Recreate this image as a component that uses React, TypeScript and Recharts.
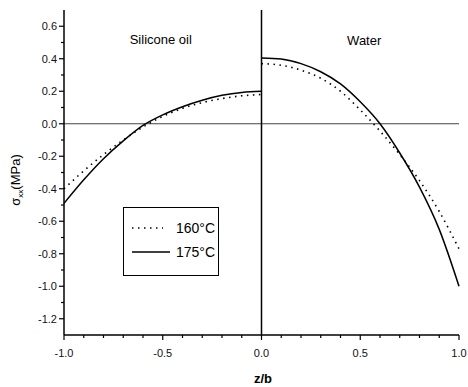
import React from 'react';
import { LineChart, Line, XAxis, YAxis, ReferenceLine, ReferenceDot, Legend } from 'recharts';

// z/b positions of the two halves
const zOil = [-1.0, -0.9, -0.8, -0.7, -0.6, -0.5, -0.4, -0.3, -0.2, -0.1, 0.0];
const zWater = [0.0, 0.1, 0.2, 0.3, 0.4, 0.5, 0.6, 0.7, 0.8, 0.9, 1.0];

// sigma_xx (MPa)
const oil160 = [-0.4, -0.29, -0.19, -0.1, -0.02, 0.045, 0.095, 0.13, 0.155, 0.172, 0.18];
const oil175 = [-0.49, -0.345, -0.215, -0.105, -0.01, 0.055, 0.105, 0.145, 0.175, 0.193, 0.2];
const water160 = [0.37, 0.36, 0.33, 0.28, 0.2, 0.085, -0.045, -0.19, -0.35, -0.54, -0.77];
const water175 = [0.405, 0.398, 0.37, 0.32, 0.245, 0.135, 0.0, -0.18, -0.39, -0.65, -1.0];

const xTicks = [-1.0, -0.9, -0.8, -0.7, -0.6, -0.5, -0.4, -0.3, -0.2, -0.1, 0.0, 0.1, 0.2, 0.3, 0.4, 0.5, 0.6, 0.7, 0.8, 0.9, 1.0];
const xMajor = [-1.0, -0.5, 0.0, 0.5, 1.0];
const yTicks = [-1.2, -1.1, -1.0, -0.9, -0.8, -0.7, -0.6, -0.5, -0.4, -0.3, -0.2, -0.1, 0.0, 0.1, 0.2, 0.3, 0.4, 0.5, 0.6];
const yMajor = [-1.2, -1.0, -0.8, -0.6, -0.4, -0.2, 0.0, 0.2, 0.4, 0.6];

const FONT = '"Liberation Sans", Arial, sans-serif';

const toData = (zs: number[], vals: number[]) => zs.map((z, i) => ({ z, s: vals[i] }));
const isIn = (list: number[], v: number) => list.some(m => Math.abs(m - v) < 1e-6);

const BottomTick = (props: any) => {
    const { x, y, payload } = props;
    const major = isIn(xMajor, payload.value);
    return (
        <g>
            <line x1={x} x2={x} y1={y} y2={y + (major ? 5 : 3)} stroke="#000" strokeWidth={1.2} />
            {major && (
                <text x={x} y={y + 22} textAnchor="middle" fontSize={11} fontFamily={FONT} fill="#111">
                    {payload.value.toFixed(1)}
                </text>
            )}
        </g>
    );
};

const TopTick = (props: any) => {
    const { x, y, payload } = props;
    const major = isIn(xMajor, payload.value);
    return <line x1={x} x2={x} y1={y} y2={y + (major ? 5 : 3)} stroke="#000" strokeWidth={1.2} />;
};

const LeftTick = (props: any) => {
    const { x, y, payload } = props;
    const major = isIn(yMajor, payload.value);
    return (
        <g>
            <line x1={x} x2={x - (major ? 5 : 3)} y1={y} y2={y} stroke="#000" strokeWidth={1.2} />
            {major && (
                <text x={x - 7} y={y + 4} textAnchor="end" fontSize={11} fontFamily={FONT} fill="#111">
                    {payload.value.toFixed(1)}
                </text>
            )}
        </g>
    );
};

const RightTick = (props: any) => {
    const { x, y, payload } = props;
    const major = isIn(yMajor, payload.value);
    return <line x1={x} x2={x - (major ? 5 : 3)} y1={y} y2={y} stroke="#000" strokeWidth={1.2} />;
};

const LegendBox = () => (
    <svg width={96} height={69} style={{ display: 'block' }}>
        <rect x={0.5} y={0.5} width={95} height={68} fill="#fff" stroke="#000" strokeWidth={1} />
        <line x1={9} x2={40} y1={21} y2={21} stroke="#000" strokeWidth={1.5} strokeDasharray="1.5 4.5" />
        <text x={92} y={26} textAnchor="end" fontSize={14} fontFamily={FONT} fill="#000">160°C</text>
        <line x1={9} x2={47} y1={45} y2={45} stroke="#000" strokeWidth={1.5} />
        <text x={92} y={50} textAnchor="end" fontSize={14} fontFamily={FONT} fill="#000">175°C</text>
    </svg>
);

export default function App() {
    return (
        <div style={{ position: 'absolute', left: 0, top: 0, background: '#fff' }}>
            <LineChart width={468} height={387} margin={{ top: 10, right: 9, bottom: 0, left: 0 }}>
                <XAxis
                    type="number"
                    dataKey="z"
                    domain={[-1, 1]}
                    ticks={xTicks}
                    interval={0}
                    height={52}
                    tickSize={0}
                    tickMargin={0}
                    tickLine={false}
                    tick={<BottomTick />}
                    axisLine={{ stroke: '#000', strokeWidth: 1.5 }}
                    label={{
                        content: () => (
                            <text x={263} y={383} textAnchor="middle" fontSize={13} fontWeight="bold" fontFamily={FONT} fill="#000">
                                z/b
                            </text>
                        )
                    }}
                />
                <XAxis
                    xAxisId="top"
                    orientation="top"
                    type="number"
                    dataKey="z"
                    domain={[-1, 1]}
                    ticks={xTicks}
                    interval={0}
                    height={0}
                    tickSize={0}
                    tickMargin={0}
                    tickLine={false}
                    tick={<TopTick />}
                    axisLine={{ stroke: '#000', strokeWidth: 1.5 }}
                />
                <YAxis
                    type="number"
                    domain={[-1.3, 0.7]}
                    ticks={yTicks}
                    interval={0}
                    width={64}
                    tickSize={0}
                    tickMargin={0}
                    tickLine={false}
                    tick={<LeftTick />}
                    axisLine={{ stroke: '#000', strokeWidth: 1.5 }}
                    label={{
                        content: () => (
                            <text transform="translate(20,180) rotate(-90)" textAnchor="middle" fontSize={13} fontFamily={FONT} fill="#000">
                                σ<tspan dy={3} fontSize={8}>xx</tspan>
                                <tspan dy={-3} fontSize={13}>(MPa)</tspan>
                            </text>
                        )
                    }}
                />
                <YAxis
                    yAxisId="right"
                    orientation="right"
                    type="number"
                    domain={[-1.3, 0.7]}
                    ticks={yTicks}
                    interval={0}
                    width={0}
                    tickSize={0}
                    tickMargin={0}
                    tickLine={false}
                    tick={<RightTick />}
                    axisLine={{ stroke: '#000', strokeWidth: 1.5 }}
                />
                <ReferenceLine y={0} stroke="#444" strokeWidth={1} />
                <ReferenceLine x={0} stroke="#000" strokeWidth={1.5} />
                <ReferenceDot x={-0.51} y={0.52} r={0} fill="none" stroke="none"
                    label={{ value: 'Silicone oil', position: 'center', fontSize: 13, fontFamily: FONT, fill: '#000' }} />
                <ReferenceDot x={0.52} y={0.51} r={0} fill="none" stroke="none"
                    label={{ value: 'Water', position: 'center', fontSize: 13, fontFamily: FONT, fill: '#000' }} />
                <Line data={toData(zOil, oil160)} dataKey="s" type="monotone" stroke="#000" strokeWidth={1.6}
                    strokeDasharray="1.5 4.5" dot={false} activeDot={false} isAnimationActive={false} />
                <Line data={toData(zOil, oil175)} dataKey="s" type="monotone" stroke="#000" strokeWidth={1.5}
                    dot={false} activeDot={false} isAnimationActive={false} />
                <Line data={toData(zWater, water160)} dataKey="s" type="monotone" stroke="#000" strokeWidth={1.6}
                    strokeDasharray="1.5 4.5" dot={false} activeDot={false} isAnimationActive={false} />
                <Line data={toData(zWater, water175)} dataKey="s" type="monotone" stroke="#000" strokeWidth={1.5}
                    dot={false} activeDot={false} isAnimationActive={false} />
                <Legend
                    layout="horizontal"
                    verticalAlign="middle"
                    content={() => <LegendBox />}
                    wrapperStyle={{ position: 'absolute', left: 123, top: 207, width: 96, height: 69, bottom: 'auto', margin: 0 }}
                />
            </LineChart>
        </div>
    );
}
